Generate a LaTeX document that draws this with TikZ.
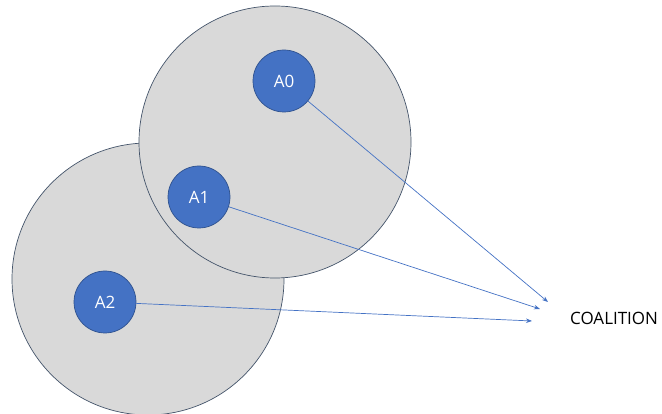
\documentclass[tikz,border=0pt]{standalone}
\usepackage{fontspec}
\setmainfont{Open Sans}
\usetikzlibrary{arrows.meta}
\definecolor{agentfill}{HTML}{4472C4}
\definecolor{agentedge}{HTML}{2F528F}
\definecolor{zonefill}{HTML}{D9D9D9}
\definecolor{zoneedge}{HTML}{44546A}
\begin{document}
\begin{tikzpicture}[x=1pt,y=-1pt,
  zone/.style={circle,draw=zoneedge,fill=zonefill,line width=0.7pt,minimum size=272pt,inner sep=0pt},
  agent/.style={circle,draw=agentedge,fill=agentfill,line width=0.7pt,minimum size=62pt,inner sep=0pt,
    text=white,font=\fontsize{17}{20}\selectfont},
  link/.style={draw=agentfill,line width=0.7pt,-{Stealth[length=6pt,width=4.5pt]}}]
  \useasboundingbox (0,0) rectangle (662,414);
  % the two overlapping neighbourhoods
  \node[zone] (z2) at (148,279) {};
  \node[zone] (z1) at (275,142) {};
  % agents
  \node[agent] (a0) at (284,81) {A0};
  \node[agent] (a1) at (199,197) {A1};
  \node[agent] (a2) at (105,302) {A2};
  % target label and arrow ends
  \node[font=\fontsize{17}{20}\selectfont,anchor=west,inner sep=0pt] (co) at (570,318) {COALITION};
  \coordinate (e0) at (548,302);
  \coordinate (e1) at (540,309);
  \coordinate (e2) at (532,321);
  \draw[link] (a0) -- (e0);
  \draw[link] (a1) -- (e1);
  \draw[link] (a2) -- (e2);
\end{tikzpicture}
\end{document}
